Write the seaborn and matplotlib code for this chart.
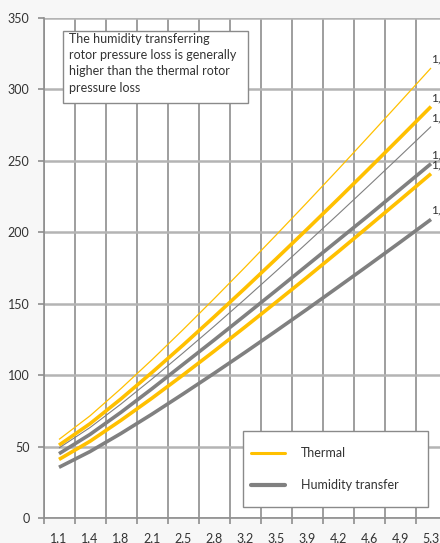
import matplotlib
matplotlib.use("Agg")
import matplotlib.pyplot as plt
from matplotlib.lines import Line2D
from matplotlib.patches import Rectangle
import numpy as np
import pandas as pd
import seaborn as sns

# ── Data ─────────────────────────────────────────────────────────────────
categories = ["1,1", "1,4", "1,8", "2,1", "2,5", "2,8", "3,2",
              "3,5", "3,9", "4,2", "4,6", "4,9", "5,3"]

thermal_thin   = [55, 71.5, 90.6, 110.8, 131.8, 153.4, 175.5, 198.0, 220.8, 243.9, 267.4, 291.1, 315]
thermal_a      = [51, 66.0, 83.4, 101.9, 121.0, 140.7, 160.8, 181.3, 202.1, 223.2, 244.6, 266.2, 288]
humidity_thin  = [49, 63.3, 79.8, 97.3, 115.5, 134.1, 153.2, 172.7, 192.5, 212.5, 232.8, 253.3, 274]
humidity_a     = [45, 58.5, 74.0, 90.5, 107.5, 124.5, 141.8, 159.2, 176.8, 194.4, 212.0, 230.0, 248]
thermal_b      = [41, 53.7, 68.4, 83.9, 100.1, 116.7, 133.7, 151.0, 168.5, 186.3, 204.4, 222.6, 241]
humidity_b     = [35.5, 46.5, 59.2, 72.7, 86.8, 101.2, 115.9, 130.9, 146.1, 161.6, 177.2, 193.0, 209]

# end-of-line labels are truncated by the right edge in the original
end_labels = ["1,", "1,", "1,", "1,", "1,", "1,"]
legend_labels = ["Thermal", "Humidity transfer"]
note = ("The humidity transferring\nrotor pressure loss is generally\n"
        "higher than the thermal rotor\npressure loss")

# ── Styling ──────────────────────────────────────────────────────────────
YELLOW = "#FFC000"
GRAY = "#808080"
HGRID = "#B4B4B4"
VGRID = "#8E8E8E"
TEXT = "#333333"
W, H = 440, 543

sns.set_style("white")
plt.rcParams["font.family"] = ["Lato", "DejaVu Sans"]

series = [
    (thermal_thin, YELLOW, 0.9),
    (thermal_a, YELLOW, 2.6),
    (humidity_thin, GRAY, 0.8),
    (humidity_a, GRAY, 2.6),
    (thermal_b, YELLOW, 2.6),
    (humidity_b, GRAY, 2.6),
]

fig = plt.figure(figsize=(W / 100, H / 100), dpi=100, facecolor="#F7F7F7")
ax = fig.add_axes([43.5 / W, 25 / H, 403 / W, 500 / H])
ax.set_facecolor("white")

pos = np.arange(len(categories))
for (vals, col, lw), lab in zip(series, end_labels):
    df = pd.DataFrame({"pos": pos, "value": vals})
    sns.lineplot(data=df, x="pos", y="value", ax=ax, color=col,
                 linewidth=lw, solid_capstyle="butt", zorder=3)
    ax.annotate(lab, (pos[-1], vals[-1]), xytext=(0, 6.5),
                textcoords="offset points", fontsize=8.5, color=TEXT,
                ha="left", va="center", annotation_clip=False)

ax.set_xlim(-0.5, len(categories) - 0.5)
ax.set_ylim(0, 350)
ax.set_yticks(np.arange(0, 351, 50))
ax.set_xticks(pos)
ax.set_xticklabels(categories)
ax.set_xticks(np.arange(-0.5, len(categories), 1), minor=True)
ax.set_xlabel("")
ax.set_ylabel("")

ax.grid(False)
ax.grid(axis="y", which="major", color=HGRID, linewidth=1.8, zorder=1)
ax.grid(axis="x", which="minor", color=VGRID, linewidth=1.2, zorder=1)
ax.tick_params(axis="x", which="major", length=0, pad=10, labelsize=9, labelcolor=TEXT)
ax.tick_params(axis="x", which="minor", length=4, width=1.2, color=VGRID, direction="out", bottom=True)
ax.tick_params(axis="y", length=4, width=1.2, color=VGRID, direction="out", left=True,
               pad=6, labelsize=9, labelcolor=TEXT)

for side in ["top", "right"]:
    ax.spines[side].set_visible(False)
for side in ["left", "bottom"]:
    ax.spines[side].set_color(VGRID)
    ax.spines[side].set_linewidth(1.2)

# Note box
fig.patches.append(Rectangle((63 / W, 1 - 103 / H), 185 / W, 72 / H,
                             transform=fig.transFigure, facecolor="white",
                             edgecolor="#8A8A8A", linewidth=1, zorder=5))
fig.text(69 / W, 1 - 33 / H, note, fontsize=9, color=TEXT, ha="left", va="top",
         linespacing=1.42, zorder=6)

# Legend (drawn by hand to match the boxed Excel legend)
fig.patches.append(Rectangle((243 / W, 1 - 507 / H), 185 / W, 76 / H,
                             transform=fig.transFigure, facecolor="white",
                             edgecolor="#8A8A8A", linewidth=1, zorder=5))
for y, col, lw, lab in [(453, YELLOW, 2.2, legend_labels[0]),
                        (485, GRAY, 3.0, legend_labels[1])]:
    fig.add_artist(Line2D([251 / W, 285 / W], [1 - y / H, 1 - y / H],
                          transform=fig.transFigure, color=col, lw=lw, zorder=6))
    fig.text(301 / W, 1 - y / H, lab, fontsize=9, color=TEXT,
             ha="left", va="center", zorder=6)

fig.savefig("out.png", dpi=100, facecolor=fig.get_facecolor())
